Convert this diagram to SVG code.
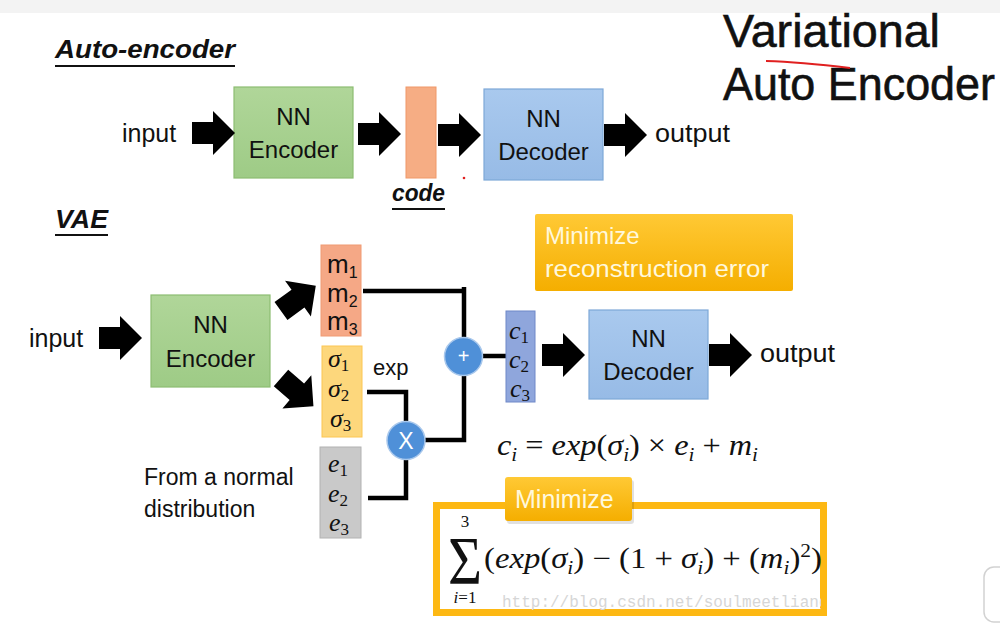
<svg xmlns="http://www.w3.org/2000/svg" width="1000" height="625" viewBox="0 0 1000 625">
<style>
.sans{font-family:"Liberation Sans",Arial,sans-serif;fill:#111}
.math{font-family:"Liberation Serif","Times New Roman",serif;fill:#111}
.it{font-style:italic}
.ttl{font-family:"Liberation Sans",Arial,sans-serif;font-weight:bold;font-style:italic;fill:#111}
.lbl{font-size:24px;text-anchor:middle}
.wire{fill:none;stroke:#000;stroke-width:4.5;stroke-linejoin:miter}
.op{fill:#4f90d8;stroke:#a9c8ec;stroke-width:1.5}
.optx{font-family:"Liberation Sans",Arial,sans-serif;fill:#fff;text-anchor:middle}
.white{font-family:"Liberation Sans",Arial,sans-serif;fill:#fff8dc}
</style>
<defs>
<path id="blk" d="M0,-11 H21 V-22 L43,0 L21,22 V11 H0 Z" fill="#000"/>
<linearGradient id="gold" x1="0" y1="0" x2="0" y2="1">
<stop offset="0" stop-color="#ffc935"/>
<stop offset="1" stop-color="#f5ae00"/>
</linearGradient>
<linearGradient id="grn" x1="0" y1="0" x2="0" y2="1">
<stop offset="0" stop-color="#b0d699"/>
<stop offset="1" stop-color="#9ecb86"/>
</linearGradient>
<linearGradient id="blu" x1="0" y1="0" x2="0" y2="1">
<stop offset="0" stop-color="#a9c9ee"/>
<stop offset="1" stop-color="#97bbe6"/>
</linearGradient>
<clipPath id="wm"><rect x="440" y="588" width="381" height="22"/></clipPath>
</defs>
<rect width="1000" height="625" fill="#fff"/>
<rect width="1000" height="13" fill="#f3f3f3"/>

<g id="title-variational">
<text class="sans" x="723" y="47" font-size="46" stroke="#111" stroke-width="0.6" textLength="217" lengthAdjust="spacingAndGlyphs">Variational</text>
<text class="sans" x="723" y="100" font-size="46" stroke="#111" stroke-width="0.6" textLength="272" lengthAdjust="spacingAndGlyphs">Auto Encoder</text>
<path d="M766,61 Q800,62 850,68" fill="none" stroke="#e02020" stroke-width="2"/>
</g>

<g id="title-ae">
<text class="ttl" x="55" y="58" font-size="26" textLength="180" lengthAdjust="spacingAndGlyphs">Auto-encoder</text>
<line x1="55" y1="66" x2="235" y2="66" stroke="#111" stroke-width="2"/>
</g>

<g id="ae-input"><text class="sans" x="122" y="142" font-size="25">input</text></g>
<g id="ae-encoder">
<rect x="234" y="87" width="119" height="91" fill="url(#grn)" stroke="#8dbd72" stroke-width="1.2"/>
<text class="sans lbl" x="293.5" y="125">NN</text>
<text class="sans lbl" x="293.5" y="158">Encoder</text>
</g>
<g id="ae-code">
<rect x="406" y="87" width="30" height="91" fill="#f6ad84" stroke="#f09868" stroke-width="1"/>
<text class="ttl" x="392" y="201" font-size="24" textLength="53" lengthAdjust="spacingAndGlyphs">code</text>
<line x1="392" y1="209" x2="445" y2="209" stroke="#111" stroke-width="2"/>
</g>
<g id="ae-decoder">
<rect x="484" y="89" width="119" height="91" fill="url(#blu)" stroke="#7ea8d8" stroke-width="1.2"/>
<text class="sans lbl" x="543.5" y="127">NN</text>
<text class="sans lbl" x="543.5" y="160">Decoder</text>
</g>
<g id="ae-output"><text class="sans" x="655" y="142" font-size="25" textLength="75" lengthAdjust="spacingAndGlyphs">output</text></g>
<circle cx="464" cy="178" r="1.3" fill="#e02020"/>

<g id="title-vae">
<text class="ttl" x="55" y="228" font-size="26" textLength="53" lengthAdjust="spacingAndGlyphs">VAE</text>
<line x1="55" y1="235" x2="108" y2="235" stroke="#111" stroke-width="2"/>
</g>

<g id="vae-input"><text class="sans" x="29" y="347" font-size="25">input</text></g>
<g id="vae-encoder">
<rect x="151" y="295" width="119" height="92" fill="url(#grn)" stroke="#8dbd72" stroke-width="1.2"/>
<text class="sans lbl" x="210.5" y="333">NN</text>
<text class="sans lbl" x="210.5" y="367">Encoder</text>
</g>

<g id="vae-m">
<rect x="321" y="245" width="40" height="91" fill="#f5a886" stroke="#f09a72" stroke-width="1"/>
<text class="sans" x="327" y="273" font-size="26">m<tspan font-size="16" dy="5">1</tspan></text>
<text class="sans" x="327" y="302" font-size="26">m<tspan font-size="16" dy="5">2</tspan></text>
<text class="sans" x="327" y="330" font-size="26">m<tspan font-size="16" dy="5">3</tspan></text>
</g>
<g id="vae-sigma">
<rect x="322" y="346" width="40" height="91" fill="#fdd77c" stroke="#fcc652" stroke-width="1"/>
<text class="math" x="328" y="367" font-size="26"><tspan class="it">σ</tspan><tspan font-size="17" dy="4">1</tspan></text>
<text class="math" x="328" y="397" font-size="26"><tspan class="it">σ</tspan><tspan font-size="17" dy="4">2</tspan></text>
<text class="math" x="330" y="427" font-size="26"><tspan class="it">σ</tspan><tspan font-size="17" dy="4">3</tspan></text>
<text class="sans" x="373" y="375" font-size="22">exp</text>
</g>
<g id="vae-e">
<rect x="320" y="447" width="41" height="91" fill="#c9c9c9" stroke="#b2b2b2" stroke-width="1"/>
<text class="math" x="328" y="472" font-size="26"><tspan class="it">e</tspan><tspan font-size="17" dy="4">1</tspan></text>
<text class="math" x="328" y="502" font-size="26"><tspan class="it">e</tspan><tspan font-size="17" dy="4">2</tspan></text>
<text class="math" x="329" y="531" font-size="26"><tspan class="it">e</tspan><tspan font-size="17" dy="4">3</tspan></text>
<text class="sans" x="144" y="485" font-size="23">From a normal</text>
<text class="sans" x="144" y="517" font-size="23">distribution</text>
</g>

<g id="connectors">
<use href="#blk" x="192" y="133"/>
<use href="#blk" x="358" y="134"/>
<use href="#blk" x="438" y="135"/>
<use href="#blk" x="604" y="135"/>
<use href="#blk" x="99" y="338"/>
<use href="#blk" transform="translate(281,311) rotate(-36)"/>
<use href="#blk" transform="translate(281,378) rotate(41)"/>
<use href="#blk" x="542" y="355"/>
<use href="#blk" x="709" y="355"/>
<path class="wire" d="M363,291 H464 V337 M464,287 V293"/>
<path class="wire" d="M367,392 H406 V421"/>
<path class="wire" d="M368,498 H406 V459"/>
<path class="wire" d="M425,440 H464 V375"/>
<path class="wire" d="M482,356 H506"/>
</g>

<g id="vae-plus">
<circle class="op" cx="463.5" cy="356.5" r="19"/>
<text class="optx" x="463.5" y="363" font-size="20">+</text>
</g>
<g id="vae-times">
<circle class="op" cx="406" cy="440.5" r="19"/>
<text class="optx" x="406" y="449" font-size="23">X</text>
</g>

<g id="vae-c">
<rect x="506" y="311" width="29" height="91" fill="#8fa6dc" stroke="#6f88c8" stroke-width="1"/>
<text class="math" x="509" y="339" font-size="26"><tspan class="it">c</tspan><tspan font-size="17" dy="4">1</tspan></text>
<text class="math" x="509" y="368" font-size="26"><tspan class="it">c</tspan><tspan font-size="17" dy="4">2</tspan></text>
<text class="math" x="510" y="397" font-size="26"><tspan class="it">c</tspan><tspan font-size="17" dy="4">3</tspan></text>
</g>
<g id="vae-decoder">
<rect x="589" y="310" width="119" height="89" fill="url(#blu)" stroke="#7ea8d8" stroke-width="1.2"/>
<text class="sans lbl" x="648.5" y="347">NN</text>
<text class="sans lbl" x="648.5" y="380">Decoder</text>
</g>
<g id="vae-output"><text class="sans" x="760" y="362" font-size="25" textLength="75" lengthAdjust="spacingAndGlyphs">output</text></g>

<g id="note-recon">
<rect x="535" y="214" width="258" height="77" rx="2" fill="url(#gold)"/>
<text class="white" x="545" y="244" font-size="24">Minimize</text>
<text class="white" x="545" y="277" font-size="24" textLength="224" lengthAdjust="spacingAndGlyphs">reconstruction error</text>
</g>

<g id="equation-c">
<text class="math" x="497" y="455" font-size="29" textLength="261" lengthAdjust="spacingAndGlyphs"><tspan class="it">c</tspan><tspan class="it" font-size="19" dy="6">i</tspan><tspan dy="-6"> = </tspan><tspan class="it">exp</tspan>(<tspan class="it">σ</tspan><tspan class="it" font-size="19" dy="6">i</tspan><tspan dy="-6">) × </tspan><tspan class="it">e</tspan><tspan class="it" font-size="19" dy="6">i</tspan><tspan dy="-6"> + </tspan><tspan class="it">m</tspan><tspan class="it" font-size="19" dy="6">i</tspan></text>
</g>

<g id="loss-box">
<rect x="436.5" y="505.5" width="387" height="107" fill="#fff" stroke="#fdb813" stroke-width="7"/>
<text font-family="'Liberation Mono','Courier New',monospace" font-size="16" fill="#d6d6d6" x="502" y="607" clip-path="url(#wm)">http://blog.csdn.net/soulmeetliang</text>
<text class="math" x="465" y="527" font-size="17" text-anchor="middle">3</text>
<text class="math" x="448" y="583" font-size="68" textLength="34" lengthAdjust="spacingAndGlyphs">Σ</text>
<text class="math" x="465" y="603" font-size="17" text-anchor="middle"><tspan class="it">i</tspan>=1</text>
<text class="math" x="484" y="568" font-size="29" textLength="338" lengthAdjust="spacingAndGlyphs">(<tspan class="it">exp</tspan>(<tspan class="it">σ</tspan><tspan class="it" font-size="19" dy="6">i</tspan><tspan dy="-6">) − (1 + </tspan><tspan class="it">σ</tspan><tspan class="it" font-size="19" dy="6">i</tspan><tspan dy="-6">) + (</tspan><tspan class="it">m</tspan><tspan class="it" font-size="19" dy="6">i</tspan><tspan dy="-6">)</tspan><tspan font-size="19" dy="-11">2</tspan><tspan dy="11">)</tspan></text>
</g>
<g id="loss-tab">
<rect x="507" y="480" width="127" height="44" rx="3" fill="#000" opacity="0.12"/>
<rect x="505" y="477" width="127" height="44" rx="3" fill="url(#gold)"/>
<text class="white" x="515" y="508" font-size="25">Minimize</text>
</g>

<g id="side-tab">
<rect x="984" y="567" width="40" height="55" rx="10" fill="#fff" stroke="#d2d2d2" stroke-width="1.5"/>
</g>
</svg>
